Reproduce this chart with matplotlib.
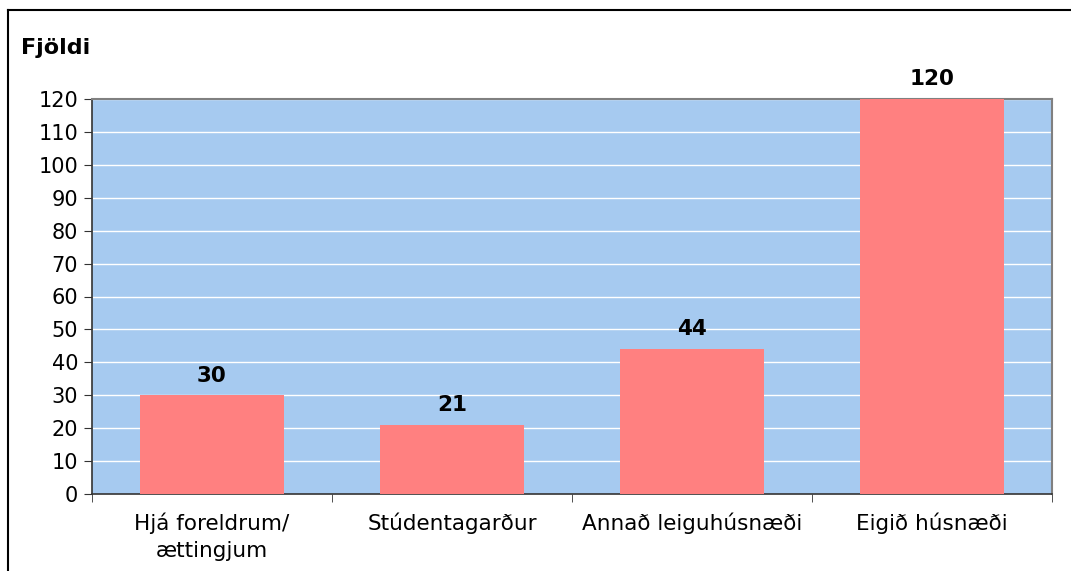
import matplotlib
matplotlib.use("Agg")
import matplotlib.pyplot as plt
from matplotlib.lines import Line2D

categories = ["Hjá foreldrum/\nættingjum", "Stúdentagarður", "Annað leiguhúsnæði", "Eigið húsnæði"]
values = [30, 21, 44, 120]
yticks = list(range(0, 121, 10))

plt.rcParams['font.family'] = ['DejaVu Sans']

fig = plt.figure(figsize=(10.71, 5.71), dpi=100)
ax = fig.add_axes([92/1071, 1 - 494/571, (1052-92)/1071, (494-99)/571])

x = range(len(categories))
ax.bar(x, values, width=0.6, color="#FF8080", zorder=3)
for xi, v in zip(x, values):
    ax.annotate(str(v), (xi, v), xytext=(0, 7), textcoords="offset points",
                ha="center", va="bottom", fontsize=15.5, fontweight="bold")

ax.set_facecolor("#A6CAF0")
ax.set_xlim(-0.5, len(categories) - 0.5)
ax.set_ylim(0, 120)
ax.set_yticks(yticks)
ax.yaxis.grid(True, color="white", linewidth=1.0, zorder=1)
ax.set_axisbelow(True)

ax.set_xticks(x)
ax.set_xticklabels(categories, fontsize=15.5, linespacing=1.45)
ax.tick_params(axis="x", length=0, pad=13)
ax.set_xticks([i + 0.5 for i in range(-1, len(categories))], minor=True)
ax.tick_params(axis="x", which="minor", length=6, direction="out", color="#333333")
ax.tick_params(axis="y", labelsize=15, length=6, direction="out", color="#333333", pad=4)

for s in ["top", "right"]:
    ax.spines[s].set_color("#808080")
    ax.spines[s].set_linewidth(1.5)
for s in ["left", "bottom"]:
    ax.spines[s].set_color("#333333")
    ax.spines[s].set_linewidth(1.2)

fig.text(21/1071, 1 - 48/571, "Fjöldi", fontsize=16, fontweight="bold", va="center", ha="left")

# outer frame (left and top edges only visible)
fig.add_artist(Line2D([8/1071, 8/1071], [0, 1 - 10/571], color="black", linewidth=1.5, transform=fig.transFigure))
fig.add_artist(Line2D([8/1071, 1], [1 - 10/571, 1 - 10/571], color="black", linewidth=1.5, transform=fig.transFigure))

fig.savefig("out.png", dpi=100)
